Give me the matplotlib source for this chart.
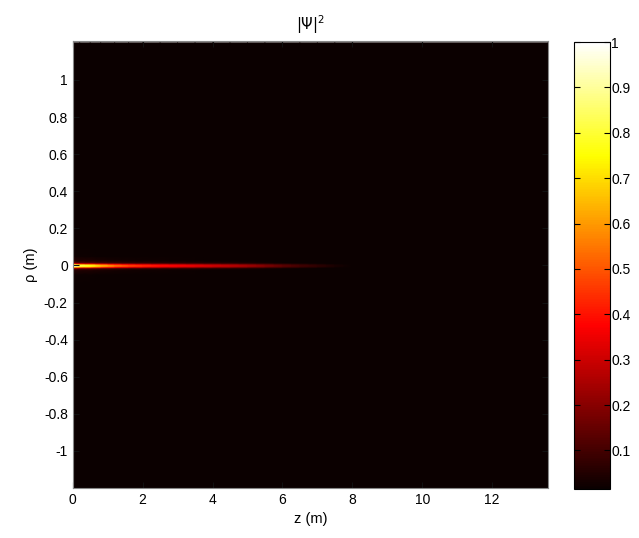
import numpy as np
import matplotlib
matplotlib.use('Agg')
import matplotlib.pyplot as plt

plt.rcParams['font.family'] = ['Liberation Sans Narrow', 'Liberation Sans', 'DejaVu Sans']
plt.rcParams['mathtext.fontset'] = 'dejavusans'

# on-axis intensity along z
z_pts = [0, 0.2, 0.5, 0.8, 1.2, 1.6, 2.0, 2.5, 3.0, 3.5, 4.0, 4.5,
         5.0, 5.5, 6.0, 6.5, 7.0, 7.5, 8.0, 13.6]
peak = [1.0, 0.84, 0.78, 0.66, 0.55, 0.48, 0.44, 0.40, 0.37, 0.34, 0.31, 0.28,
        0.24, 0.19, 0.14, 0.10, 0.07, 0.04, 0.015, 0.015]

# relative transverse profile vs |rho|
rho_off = [0, 0.004, 0.008, 0.012, 0.016, 0.025, 0.05, 0.1, 0.2, 1.2]
prof = [1.0, 0.95, 0.7, 0.35, 0.15, 0.06, 0.025, 0.01, 0.0, 0.0]

rho = np.concatenate([-np.array(rho_off[:0:-1]), rho_off])
prof_full = np.concatenate([np.array(prof[:0:-1]), prof])
C = np.outer(prof_full, peak)

fig = plt.figure(figsize=(6.39, 5.38), dpi=100)
ax = fig.add_axes([0.1138, 0.0929, 0.7438, 0.8309])
cax = fig.add_axes([0.8983, 0.0910, 0.0563, 0.8309])

m = ax.pcolormesh(z_pts, rho, C, cmap='hot', vmin=0.015, vmax=1.0, shading='gouraud')
ax.set_xlim(0, 13.6)
ax.set_ylim(-1.2, 1.21)
ax.set_xticks(range(0, 13, 2))
ax.set_yticks(np.round(np.arange(-1, 1.01, 0.2), 1))
ax.set_yticklabels(['-1', '-0.8', '-0.6', '-0.4', '-0.2', '0', '0.2', '0.4', '0.6', '0.8', '1'])
ax.tick_params(direction='in', labelsize=10, length=4, top=True, right=True, color='#111111')
for s in ax.spines.values():
    s.set_color('#888888')
    s.set_linewidth(0.8)
ax.set_xlabel('z (m)', fontsize=10.5)
ax.set_ylabel('ρ (m)', fontsize=10.5)
ax.set_title(r'$|\Psi|^2$', fontsize=10.5, pad=8)

cb = fig.colorbar(m, cax=cax)
cb.set_ticks([0.1, 0.2, 0.3, 0.4, 0.5, 0.6, 0.7, 0.8, 0.9, 1.0])
cb.set_ticklabels(['0.1', '0.2', '0.3', '0.4', '0.5', '0.6', '0.7', '0.8', '0.9', '1'])
cb.ax.tick_params(direction='in', labelsize=10, length=4, left=True, right=True, pad=1)
cb.outline.set_linewidth(0.8)

fig.savefig('out.png', dpi=100)
